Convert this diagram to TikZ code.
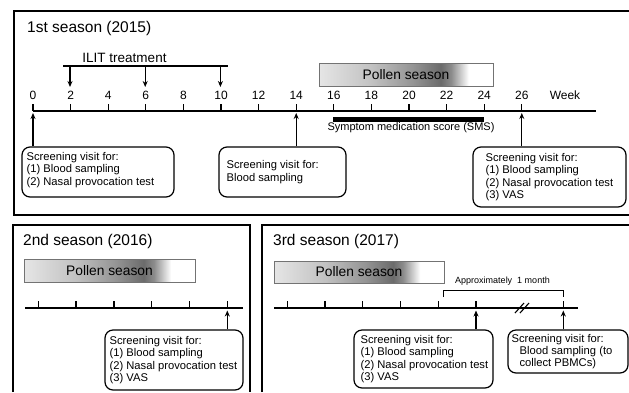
\documentclass[tikz,border=0pt]{standalone}
\usepackage{fontspec}
\setmainfont{Liberation Sans}
\usetikzlibrary{arrows.meta}
\pgfdeclarehorizontalshading{pollen}{100bp}{rgb(0bp)=(0.90,0.90,0.90); rgb(25bp)=(0.90,0.90,0.90); rgb(40bp)=(0.76,0.76,0.76); rgb(52bp)=(0.58,0.58,0.58); rgb(60bp)=(0.42,0.42,0.42); rgb(63bp)=(0.55,0.55,0.55); rgb(68bp)=(1,1,1); rgb(100bp)=(1,1,1)}
\begin{document}
\begin{tikzpicture}[x=1pt,y=-1pt,
  frame/.style={line width=1.6pt},
  axisline/.style={line width=1.7pt},
  tickline/.style={line width=1.3pt},
  arr/.style={line width=1.3pt,-{Stealth[length=6pt,width=5pt]}},
  vbox/.style={draw,line width=1.2pt,rounded corners=8pt,inner sep=0pt},
  btext/.style={align=left,inner sep=0pt,font=\fontsize{11.2}{12.4}\selectfont},
  titletext/.style={anchor=west,inner sep=0pt,font=\fontsize{15.5}{18}\selectfont},
  weeklabel/.style={inner sep=0pt,font=\fontsize{12}{14}\selectfont},
  pollenbox/.style={draw=black!55,line width=0.8pt,shading=pollen,inner sep=0pt,font=\fontsize{13.8}{16}\selectfont}
]
\useasboundingbox (0,0) rectangle (629,392);

% ---------------- 1st season ----------------
\draw[frame] (629,11) -- (14,11) -- (14,215) -- (629,215);
\node[titletext] (t1) at (27,28) {1st season (2015)};

% ILIT treatment
\coordinate (il0) at (63,66);
\coordinate (il1) at (228,66);
\draw[line width=1.6pt] (il0) -- (il1);
\node[inner sep=0pt,font=\fontsize{13.5}{16}\selectfont] (ilt) at (124.5,58) {ILIT treatment};
\foreach \xx/\nm in {70/d2,145.2/d6,220.4/d10}{
  \coordinate (\nm s) at (\xx,66);
  \coordinate (\nm e) at (\xx,87);
  \draw[arr] (\nm s) -- (\nm e);
}

% axis
\coordinate (ax0) at (33,111);
\coordinate (ax1) at (596,111);
\draw[axisline] (ax0) -- (ax1);
\foreach \w in {0,2,...,26}{
  \pgfmathsetmacro{\xx}{33+18.8*\w}
  \draw[tickline] (\xx,104) -- (\xx,111);
  \node[weeklabel] (w\w) at (\xx,95) {\w};
}
\node[weeklabel] (wk) at (565,95) {Week};

% pollen season
\node[pollenbox,minimum width=174pt,minimum height=23pt] (pol1) at (406,74.5) {Pollen season};

% SMS
\coordinate (sms0) at (333,119);
\coordinate (sms1) at (484,119);
\draw[line width=5pt] (sms0) -- (sms1);
\node[inner sep=0pt,font=\fontsize{11}{13}\selectfont] (smst) at (411,128) {Symptom medication score (SMS)};

% screening boxes
\node[vbox,minimum width=152pt,minimum height=50pt] (b1) at (98,172) {};
\node[btext,anchor=west] (b1t) at ([xshift=5pt,yshift=2pt]b1.west) {Screening visit for:\\(1) Blood sampling\\(2) Nasal provocation test};
\node[vbox,minimum width=127pt,minimum height=50pt] (b2) at (282.5,172) {};
\node[btext,anchor=west] (b2t) at ([xshift=8pt]b2.west) {Screening visit for:\\Blood sampling};
\node[vbox,minimum width=153pt,minimum height=60pt] (b3) at (549.5,177) {};
\node[btext,anchor=west] (b3t) at ([xshift=13pt]b3.west) {Screening visit for:\\(1) Blood sampling\\(2) Nasal provocation test\\(3) VAS};

\coordinate (u0) at (33,113);
\coordinate (u14) at (296.2,113);
\coordinate (u26) at (521.8,113);
\draw[arr] (b1.north -| u0) -- (u0);
\draw[arr] (b2.north -| u14) -- (u14);
\draw[arr] (b3.north -| u26) -- (u26);

% ---------------- 2nd season ----------------
\draw[frame] (13,392) -- (13,225) -- (250,225) -- (250,392);
\node[titletext] (t2) at (23,241) {2nd season (2016)};
\node[pollenbox,minimum width=171pt,minimum height=23pt] (pol2) at (109.5,270.5) {Pollen season};
\coordinate (bx0) at (25,308);
\coordinate (bx1) at (243,308);
\draw[axisline] (bx0) -- (bx1);
\foreach \i in {0,...,5}{
  \pgfmathsetmacro{\xx}{38.3+37.8*\i}
  \draw[tickline] (\xx,301) -- (\xx,308);
}
\node[vbox,minimum width=138pt,minimum height=60pt] (c1) at (174,360) {};
\node[btext,anchor=west] (c1t) at ([xshift=5pt]c1.west) {Screening visit for:\\(1) Blood sampling\\(2) Nasal provocation test\\(3) VAS};
\coordinate (v2) at (227.3,310.5);
\draw[arr] (c1.north -| v2) -- (v2);

% ---------------- 3rd season ----------------
\draw[frame] (262,392) -- (262,225) -- (629,225);
\node[titletext] (t3) at (273,241) {3rd season (2017)};
\node[pollenbox,minimum width=170pt,minimum height=22pt] (pol3) at (359,272) {Pollen season};
\coordinate (cx0) at (274,308);
\coordinate (cx1) at (578,308);
\draw[axisline] (cx0) -- (cx1);
\foreach \xx in {287.3,325,362.7,400.5,438.3,476}{
  \draw[tickline] (\xx,301) -- (\xx,308);
}
% break marks
\draw[line width=1.1pt] (515,313) -- (524,303);
\draw[line width=1.1pt] (520,313) -- (529,303);
% bracket
\coordinate (br0) at (443,297);
\coordinate (br1) at (443,290);
\coordinate (br2) at (563.3,290);
\coordinate (br3) at (563.3,308);
\draw[line width=0.8pt] (br0) -- (br1) -- (br2);
\draw[line width=1.2pt,dash pattern=on 7pt off 4pt] (br2) -- (br3);
\node[inner sep=0pt,font=\fontsize{9}{11}\selectfont] (apx) at (502.5,281) {Approximately\ \ 1 month};

\node[vbox,minimum width=139pt,minimum height=58pt] (d1) at (423.5,359) {};
\node[btext,anchor=west] (d1t) at ([xshift=7pt]d1.west) {Screening visit for:\\(1) Blood sampling\\(2) Nasal provocation test\\(3) VAS};
\node[vbox,minimum width=120pt,minimum height=43pt] (d2) at (568,351.5) {};
\node[btext,anchor=west] (d2t) at ([xshift=4pt]d2.west) {Screening visit for:\\\hspace*{8pt}Blood sampling (to\\\hspace*{8pt}collect PBMCs)};
\coordinate (v3a) at (476,310.5);
\coordinate (v3b) at (563.3,310.5);
\draw[arr] (d1.north -| v3a) -- (v3a);
\draw[arr] (d2.north -| v3b) -- (v3b);
\end{tikzpicture}
\end{document}
